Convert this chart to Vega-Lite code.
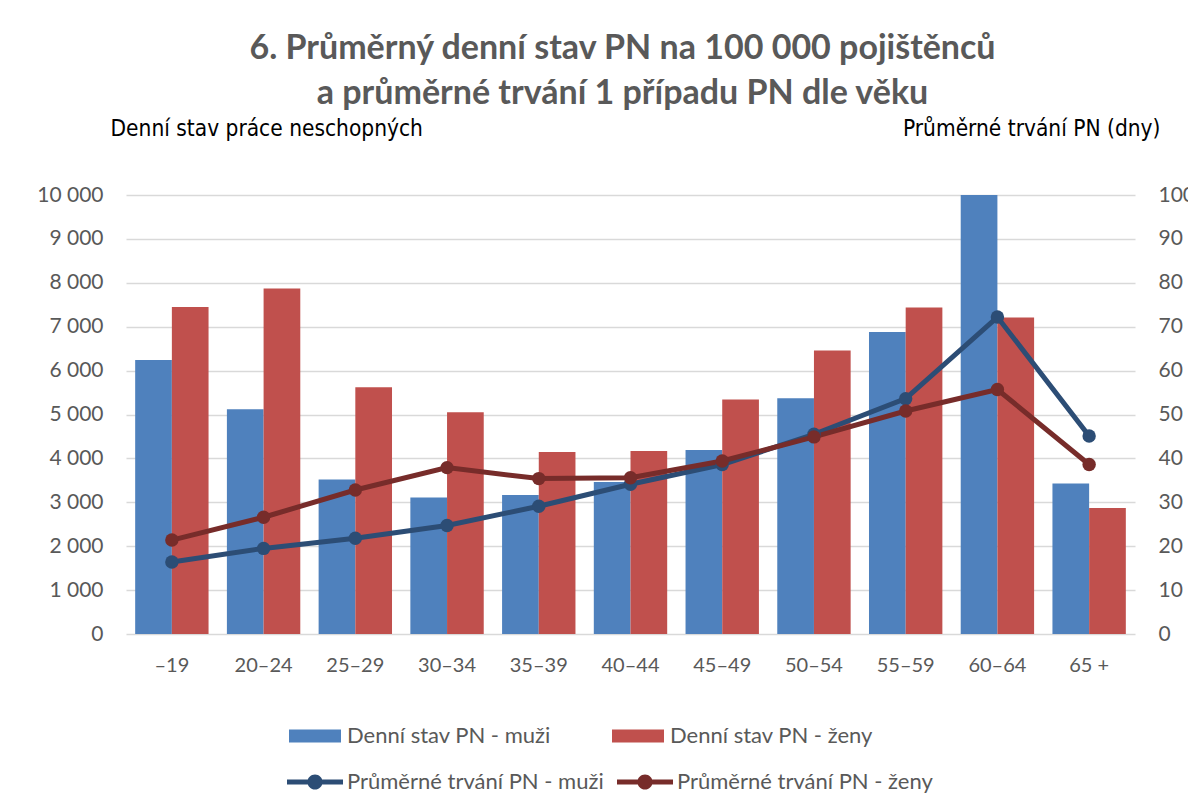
{
  "$schema": "https://vega.github.io/schema/vega-lite/v6.json",
  "autosize": "none",
  "padding": {"left": 126, "top": 195, "right": 53, "bottom": 173},
  "width": 1009,
  "height": 439,
  "background": "white",
  "title": {
    "text": ["6. Průměrný denní stav PN na 100 000 pojištěnců", "a průměrné trvání 1 případu PN dle věku"],
    "font": "Lato",
    "fontSize": 34,
    "fontWeight": "bold",
    "color": "#595959",
    "lineHeight": 45,
    "anchor": "middle",
    "frame": "group",
    "dx": -8,
    "offset": 6
  },
  "config": {
    "view": {"stroke": null},
    "axis": {"labelFont": "Lato", "titleFont": "DejaVu Sans Condensed"},
    "legend": {"labelFont": "Lato"}
  },
  "datasets": {
    "bars": [
      {"vek": "–19", "rada": "Denní stav PN - muži", "stav": 6240},
      {"vek": "–19", "rada": "Denní stav PN - ženy", "stav": 7450},
      {"vek": "20–24", "rada": "Denní stav PN - muži", "stav": 5120},
      {"vek": "20–24", "rada": "Denní stav PN - ženy", "stav": 7870},
      {"vek": "25–29", "rada": "Denní stav PN - muži", "stav": 3520},
      {"vek": "25–29", "rada": "Denní stav PN - ženy", "stav": 5620},
      {"vek": "30–34", "rada": "Denní stav PN - muži", "stav": 3110},
      {"vek": "30–34", "rada": "Denní stav PN - ženy", "stav": 5050},
      {"vek": "35–39", "rada": "Denní stav PN - muži", "stav": 3165},
      {"vek": "35–39", "rada": "Denní stav PN - ženy", "stav": 4145},
      {"vek": "40–44", "rada": "Denní stav PN - muži", "stav": 3460},
      {"vek": "40–44", "rada": "Denní stav PN - ženy", "stav": 4170},
      {"vek": "45–49", "rada": "Denní stav PN - muži", "stav": 4190},
      {"vek": "45–49", "rada": "Denní stav PN - ženy", "stav": 5340},
      {"vek": "50–54", "rada": "Denní stav PN - muži", "stav": 5370},
      {"vek": "50–54", "rada": "Denní stav PN - ženy", "stav": 6460},
      {"vek": "55–59", "rada": "Denní stav PN - muži", "stav": 6880},
      {"vek": "55–59", "rada": "Denní stav PN - ženy", "stav": 7440},
      {"vek": "60–64", "rada": "Denní stav PN - muži", "stav": 10000},
      {"vek": "60–64", "rada": "Denní stav PN - ženy", "stav": 7210},
      {"vek": "65 +", "rada": "Denní stav PN - muži", "stav": 3430},
      {"vek": "65 +", "rada": "Denní stav PN - ženy", "stav": 2870}
    ],
    "lines": [
      {"vek": "–19", "linie": "Průměrné trvání PN - muži", "trvani": 16.4},
      {"vek": "20–24", "linie": "Průměrné trvání PN - muži", "trvani": 19.5},
      {"vek": "25–29", "linie": "Průměrné trvání PN - muži", "trvani": 21.8},
      {"vek": "30–34", "linie": "Průměrné trvání PN - muži", "trvani": 24.7},
      {"vek": "35–39", "linie": "Průměrné trvání PN - muži", "trvani": 29.1},
      {"vek": "40–44", "linie": "Průměrné trvání PN - muži", "trvani": 34.1},
      {"vek": "45–49", "linie": "Průměrné trvání PN - muži", "trvani": 38.6},
      {"vek": "50–54", "linie": "Průměrné trvání PN - muži", "trvani": 45.5},
      {"vek": "55–59", "linie": "Průměrné trvání PN - muži", "trvani": 53.6},
      {"vek": "60–64", "linie": "Průměrné trvání PN - muži", "trvani": 72.2},
      {"vek": "65 +", "linie": "Průměrné trvání PN - muži", "trvani": 45.1},
      {"vek": "–19", "linie": "Průměrné trvání PN - ženy", "trvani": 21.4},
      {"vek": "20–24", "linie": "Průměrné trvání PN - ženy", "trvani": 26.6},
      {"vek": "25–29", "linie": "Průměrné trvání PN - ženy", "trvani": 32.8},
      {"vek": "30–34", "linie": "Průměrné trvání PN - ženy", "trvani": 37.9},
      {"vek": "35–39", "linie": "Průměrné trvání PN - ženy", "trvani": 35.4},
      {"vek": "40–44", "linie": "Průměrné trvání PN - ženy", "trvani": 35.6},
      {"vek": "45–49", "linie": "Průměrné trvání PN - ženy", "trvani": 39.4},
      {"vek": "50–54", "linie": "Průměrné trvání PN - ženy", "trvani": 44.9},
      {"vek": "55–59", "linie": "Průměrné trvání PN - ženy", "trvani": 50.8},
      {"vek": "60–64", "linie": "Průměrné trvání PN - ženy", "trvani": 55.7},
      {"vek": "65 +", "linie": "Průměrné trvání PN - ženy", "trvani": 38.6}
    ]
  },
  "layer": [
    {
      "data": {"name": "bars"},
      "mark": {"type": "bar"},
      "encoding": {
        "x": {
          "field": "vek",
          "type": "nominal",
          "sort": ["–19", "20–24", "25–29", "30–34", "35–39", "40–44", "45–49", "50–54", "55–59", "60–64", "65 +"],
          "scale": {"paddingInner": 0.2, "paddingOuter": 0.1},
          "axis": {
            "title": null,
            "labelAngle": 0,
            "domain": false,
            "ticks": false,
            "labelPadding": 21,
            "labelFontSize": 20,
            "labelColor": "#595959"
          }
        },
        "xOffset": {"field": "rada", "type": "nominal", "sort": ["Denní stav PN - muži", "Denní stav PN - ženy"]},
        "y": {
          "field": "stav",
          "type": "quantitative",
          "scale": {"domain": [0, 10000], "nice": false},
          "axis": {
            "orient": "left",
            "values": [0, 1000, 2000, 3000, 4000, 5000, 6000, 7000, 8000, 9000, 10000],
            "labelExpr": "replace(format(datum.value, ','), ',', ' ')",
            "grid": true,
            "gridColor": "#D9D9D9",
            "gridWidth": 1.5,
            "domain": false,
            "ticks": false,
            "labelPadding": 23,
            "labelFontSize": 21,
            "labelColor": "#595959",
            "title": "Denní stav práce neschopných",
            "titleAngle": 0,
            "titleX": -16,
            "titleY": -67,
            "titleAlign": "left",
            "titleBaseline": "middle",
            "titleFontSize": 22.5,
            "titleFontWeight": "normal",
            "titleColor": "#000000"
          }
        },
        "color": {
          "field": "rada",
          "type": "nominal",
          "scale": {"domain": ["Denní stav PN - muži", "Denní stav PN - ženy"], "range": ["#4F81BD", "#C0504D"]},
          "legend": {
            "orient": "none",
            "legendX": 163,
            "legendY": 515,
            "direction": "horizontal",
            "title": null,
            "symbolType": "M-1,-0.25H1V0.25H-1Z",
            "symbolSize": 2704,
            "symbolStrokeWidth": 0,
            "symbolOpacity": 1,
            "labelFontSize": 22,
            "labelLimit": 400,
            "labelColor": "#595959",
            "labelOffset": 6,
            "columnPadding": 61
          }
        }
      }
    },
    {
      "data": {"name": "lines"},
      "layer": [
        {
          "mark": {"type": "line", "strokeWidth": 5},
          "encoding": {
            "x": {"field": "vek", "type": "nominal", "sort": ["–19", "20–24", "25–29", "30–34", "35–39", "40–44", "45–49", "50–54", "55–59", "60–64", "65 +"]},
            "y": {
              "field": "trvani",
              "type": "quantitative",
              "scale": {"domain": [0, 100], "nice": false},
              "axis": {
                "orient": "right",
                "values": [0, 10, 20, 30, 40, 50, 60, 70, 80, 90, 100],
                "grid": false,
                "domain": false,
                "ticks": false,
                "labelPadding": 23,
                "labelFontSize": 21,
                "labelColor": "#595959",
                "title": "Průměrné trvání PN (dny)",
                "titleAngle": 0,
                "titleX": 25,
                "titleY": -67,
                "titleAlign": "right",
                "titleBaseline": "middle",
                "titleFontSize": 22.5,
                "titleFontWeight": "normal",
                "titleColor": "#000000"
              }
            },
            "stroke": {
              "field": "linie",
              "type": "nominal",
              "scale": {"domain": ["Průměrné trvání PN - muži", "Průměrné trvání PN - ženy"], "range": ["#2C4D75", "#772C2A"]},
              "legend": {
                "orient": "none",
                "legendX": 161,
                "legendY": 559,
                "direction": "horizontal",
                "title": null,
                "symbolType": "M-1,-0.09H1V0.09H-1Z M0.27,0A0.27,0.27 0 1 1 -0.27,0A0.27,0.27 0 1 1 0.27,0Z",
                "symbolSize": 3136,
                "symbolStrokeWidth": 0,
                "labelFontSize": 22,
                "labelLimit": 400,
                "labelColor": "#595959",
                "labelOffset": 4,
                "columnPadding": 13,
                "encode": {"symbols": {"update": {"fill": {"scale": "stroke", "field": "value"}, "fillOpacity": {"value": 1}}}}
              }
            }
          }
        },
        {
          "mark": {"type": "point", "filled": true, "size": 180, "opacity": 1},
          "encoding": {
            "x": {"field": "vek", "type": "nominal", "sort": ["–19", "20–24", "25–29", "30–34", "35–39", "40–44", "45–49", "50–54", "55–59", "60–64", "65 +"]},
            "y": {"field": "trvani", "type": "quantitative"},
            "fill": {
              "field": "linie",
              "type": "nominal",
              "scale": {"domain": ["Průměrné trvání PN - muži", "Průměrné trvání PN - ženy"], "range": ["#2C4D75", "#772C2A"]},
              "legend": null
            }
          }
        }
      ]
    }
  ],
  "resolve": {"scale": {"y": "independent"}}
}
